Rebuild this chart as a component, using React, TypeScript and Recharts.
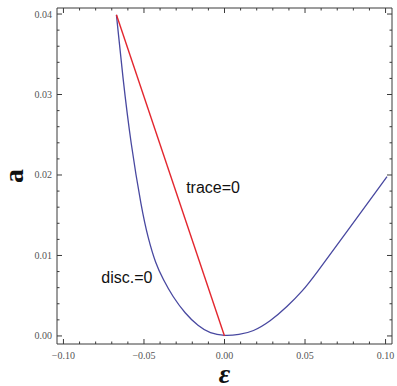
import React from 'react';
import { ComposedChart, Line, XAxis, YAxis, ReferenceDot } from 'recharts';

// ─── Data ─────────────────────────────────────────────────────────────────────

// disc.=0 curve (blue)
const discEps = [-0.0671, -0.0632, -0.0582, -0.0514, -0.0475, -0.0428, -0.0380, -0.0322, -0.0245, -0.0163, -0.0090, 0,
                 0.0090, 0.0177, 0.0283, 0.0388, 0.0489, 0.0549, 0.0779, 0.1009];
const discA   = [0.0399, 0.0322, 0.0239, 0.0157, 0.0122, 0.0090, 0.0070, 0.0049, 0.0028, 0.0012, 0.0003, 0,
                 0.00015, 0.00053, 0.0018, 0.0036, 0.0057, 0.0072, 0.0135, 0.0198];

// trace=0 line (red)
const traceEps = [-0.0671, 0];
const traceA   = [0.0399, 0];

// frame ticks
const xMajor = [-0.1, -0.05, 0, 0.05, 0.1];
const xMinor = [-0.09, -0.08, -0.07, -0.06, -0.04, -0.03, -0.02, -0.01, 0.01, 0.02, 0.03, 0.04, 0.06, 0.07, 0.08, 0.09];
const yMajor = [0, 0.01, 0.02, 0.03, 0.04];
const yMinor = [0.002, 0.004, 0.006, 0.008, 0.012, 0.014, 0.016, 0.018, 0.022, 0.024, 0.026, 0.028, 0.032, 0.034, 0.036, 0.038];

// text annotations: [label, eps, a]
const notes: [string, number, number][] = [
  ['trace=0', -0.0071, 0.0185],
  ['disc.=0', -0.0606, 0.0073],
];

const X_DOMAIN: [number, number] = [-0.104, 0.104];
const Y_DOMAIN: [number, number] = [-0.001, 0.04075];

const discData  = discEps.map((e, i) => ({ eps: e, a: discA[i] }));
const traceData = traceEps.map((e, i) => ({ eps: e, a: traceA[i] }));

// ─── Styling ──────────────────────────────────────────────────────────────────

const FRAME = '#3a3a3a';
const LABEL = '#555';
const MAJOR_LEN = 5;
const MINOR_LEN = 2.5;

const fmt = (v: number) => v.toFixed(2).replace('-', '\u2212');
const isIn = (list: number[], v: number) => list.some((m) => Math.abs(m - v) < 1e-9);

// Mathematica-style inward frame tick, major ticks optionally labelled
function makeTick(majors: number[], side: 'bottom' | 'top' | 'left' | 'right', labelled: boolean) {
  return function FrameTick(props: any) {
    const { x, y, payload } = props;
    const major = isIn(majors, payload.value);
    const len = major ? MAJOR_LEN : MINOR_LEN;
    let line;
    if (side === 'bottom') line = <line x1={x} y1={y} x2={x} y2={y - len} />;
    else if (side === 'top') line = <line x1={x} y1={y} x2={x} y2={y + len} />;
    else if (side === 'left') line = <line x1={x} y1={y} x2={x + len} y2={y} />;
    else line = <line x1={x} y1={y} x2={x - len} y2={y} />;
    return (
      <g>
        <g stroke={FRAME} strokeWidth={1}>{line}</g>
        {labelled && major && side === 'bottom' && (
          <text x={x} y={y + 15} textAnchor="middle" fill={LABEL}
                fontFamily="Liberation Serif" fontSize={10}>{fmt(payload.value)}</text>
        )}
        {labelled && major && side === 'left' && (
          <text x={x - 5} y={y + 3.5} textAnchor="end" fill={LABEL}
                fontFamily="Liberation Serif" fontSize={10}>{fmt(payload.value)}</text>
        )}
      </g>
    );
  };
}

const axisCommon = {
  type: 'number' as const,
  allowDataOverflow: true,
  interval: 0 as const,
  tickLine: false,
  tickSize: 0,
  tickMargin: 0,
  axisLine: { stroke: FRAME, strokeWidth: 1 },
};

export default function App() {
  return (
    <div style={{ position: 'absolute', left: 0, top: 0, width: 397, height: 386, background: '#fff' }}>
      <ComposedChart width={397} height={386} data={discData}
                     margin={{ top: 7, right: 4, left: 0, bottom: 0 }}>
        <XAxis {...axisCommon} xAxisId="b" orientation="bottom" dataKey="eps" height={42}
               domain={X_DOMAIN} ticks={[...xMajor, ...xMinor]}
               tick={makeTick(xMajor, 'bottom', true)}
               label={{ value: '\u03b5', position: 'insideBottom', offset: 3, fill: '#111',
                        style: { fontFamily: 'Liberation Serif', fontSize: 28, fontWeight: 'bold', fontStyle: 'italic' } }} />
        <XAxis {...axisCommon} xAxisId="t" orientation="top" dataKey="eps" height={1}
               domain={X_DOMAIN} ticks={[...xMajor, ...xMinor]}
               tick={makeTick(xMajor, 'top', false)} />
        <YAxis {...axisCommon} yAxisId="l" orientation="left" dataKey="a" width={57}
               domain={Y_DOMAIN} ticks={[...yMajor, ...yMinor]}
               tick={makeTick(yMajor, 'left', true)}
               label={{ value: 'a', position: 'insideLeft', angle: -90, offset: 13, fill: '#111',
                        style: { textAnchor: 'middle', fontFamily: 'Liberation Serif', fontSize: 28, fontWeight: 'bold' } }} />
        <YAxis {...axisCommon} yAxisId="r" orientation="right" dataKey="a" width={1}
               domain={Y_DOMAIN} ticks={[...yMajor, ...yMinor]}
               tick={makeTick(yMajor, 'right', false)} />

        <Line xAxisId="b" yAxisId="l" data={discData} dataKey="a" type="basis"
              stroke="#4848a0" strokeWidth={1.3} dot={false} isAnimationActive={false} />
        <Line xAxisId="b" yAxisId="l" data={traceData} dataKey="a" type="linear"
              stroke="#e3262e" strokeWidth={1.4} dot={false} isAnimationActive={false} />

        {notes.map(([text, e, a]) => (
          <ReferenceDot key={text} xAxisId="b" yAxisId="l" x={e} y={a} r={0}
                        fill="none" stroke="none"
                        label={{ value: text, position: 'center', fill: '#111',
                                 style: { fontFamily: 'Liberation Sans', fontSize: 16 } }} />
        ))}
      </ComposedChart>
    </div>
  );
}
